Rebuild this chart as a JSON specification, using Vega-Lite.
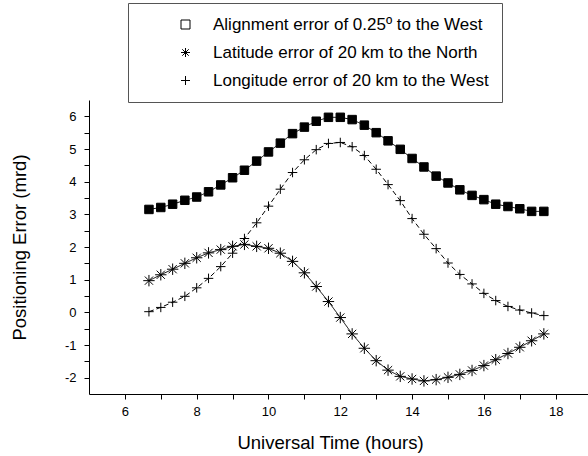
{
  "$schema": "https://vega.github.io/schema/vega-lite/v6.json",
  "autosize": {"type": "none"},
  "width": 499,
  "height": 294,
  "padding": {"left": 89, "top": 100, "right": 0, "bottom": 62},
  "background": "white",
  "config": {
    "view": {"stroke": null},
    "font": "Liberation Sans",
    "axis": {
      "grid": false,
      "domainColor": "black",
      "domainWidth": 1,
      "tickColor": "black",
      "tickWidth": 1,
      "tickSize": 5,
      "labelColor": "black",
      "labelFont": "Liberation Sans",
      "labelFontSize": 13,
      "titleColor": "black",
      "titleFont": "Liberation Sans",
      "titleFontSize": 18.5,
      "titleFontWeight": "normal"
    }
  },
  "data": {
    "values": [
      {"t": 6.67, "v": 3.15, "series": "Alignment error of 0.25º to the West"},
      {"t": 7.0, "v": 3.21, "series": "Alignment error of 0.25º to the West"},
      {"t": 7.33, "v": 3.31, "series": "Alignment error of 0.25º to the West"},
      {"t": 7.67, "v": 3.43, "series": "Alignment error of 0.25º to the West"},
      {"t": 8.0, "v": 3.53, "series": "Alignment error of 0.25º to the West"},
      {"t": 8.33, "v": 3.69, "series": "Alignment error of 0.25º to the West"},
      {"t": 8.67, "v": 3.9, "series": "Alignment error of 0.25º to the West"},
      {"t": 9.0, "v": 4.12, "series": "Alignment error of 0.25º to the West"},
      {"t": 9.33, "v": 4.35, "series": "Alignment error of 0.25º to the West"},
      {"t": 9.67, "v": 4.63, "series": "Alignment error of 0.25º to the West"},
      {"t": 10.0, "v": 4.91, "series": "Alignment error of 0.25º to the West"},
      {"t": 10.33, "v": 5.18, "series": "Alignment error of 0.25º to the West"},
      {"t": 10.67, "v": 5.47, "series": "Alignment error of 0.25º to the West"},
      {"t": 11.0, "v": 5.67, "series": "Alignment error of 0.25º to the West"},
      {"t": 11.33, "v": 5.85, "series": "Alignment error of 0.25º to the West"},
      {"t": 11.67, "v": 5.97, "series": "Alignment error of 0.25º to the West"},
      {"t": 12.0, "v": 5.97, "series": "Alignment error of 0.25º to the West"},
      {"t": 12.33, "v": 5.9, "series": "Alignment error of 0.25º to the West"},
      {"t": 12.67, "v": 5.73, "series": "Alignment error of 0.25º to the West"},
      {"t": 13.0, "v": 5.5, "series": "Alignment error of 0.25º to the West"},
      {"t": 13.33, "v": 5.25, "series": "Alignment error of 0.25º to the West"},
      {"t": 13.67, "v": 4.99, "series": "Alignment error of 0.25º to the West"},
      {"t": 14.0, "v": 4.71, "series": "Alignment error of 0.25º to the West"},
      {"t": 14.33, "v": 4.45, "series": "Alignment error of 0.25º to the West"},
      {"t": 14.67, "v": 4.17, "series": "Alignment error of 0.25º to the West"},
      {"t": 15.0, "v": 3.96, "series": "Alignment error of 0.25º to the West"},
      {"t": 15.33, "v": 3.75, "series": "Alignment error of 0.25º to the West"},
      {"t": 15.67, "v": 3.58, "series": "Alignment error of 0.25º to the West"},
      {"t": 16.0, "v": 3.45, "series": "Alignment error of 0.25º to the West"},
      {"t": 16.33, "v": 3.31, "series": "Alignment error of 0.25º to the West"},
      {"t": 16.67, "v": 3.24, "series": "Alignment error of 0.25º to the West"},
      {"t": 17.0, "v": 3.17, "series": "Alignment error of 0.25º to the West"},
      {"t": 17.33, "v": 3.09, "series": "Alignment error of 0.25º to the West"},
      {"t": 17.67, "v": 3.09, "series": "Alignment error of 0.25º to the West"},
      {"t": 6.67, "v": 0.97, "series": "Latitude error of 20 km to the North"},
      {"t": 7.0, "v": 1.15, "series": "Latitude error of 20 km to the North"},
      {"t": 7.33, "v": 1.32, "series": "Latitude error of 20 km to the North"},
      {"t": 7.67, "v": 1.5, "series": "Latitude error of 20 km to the North"},
      {"t": 8.0, "v": 1.67, "series": "Latitude error of 20 km to the North"},
      {"t": 8.33, "v": 1.82, "series": "Latitude error of 20 km to the North"},
      {"t": 8.67, "v": 1.92, "series": "Latitude error of 20 km to the North"},
      {"t": 9.0, "v": 2.02, "series": "Latitude error of 20 km to the North"},
      {"t": 9.33, "v": 2.08, "series": "Latitude error of 20 km to the North"},
      {"t": 9.67, "v": 2.02, "series": "Latitude error of 20 km to the North"},
      {"t": 10.0, "v": 1.96, "series": "Latitude error of 20 km to the North"},
      {"t": 10.33, "v": 1.81, "series": "Latitude error of 20 km to the North"},
      {"t": 10.67, "v": 1.56, "series": "Latitude error of 20 km to the North"},
      {"t": 11.0, "v": 1.21, "series": "Latitude error of 20 km to the North"},
      {"t": 11.33, "v": 0.79, "series": "Latitude error of 20 km to the North"},
      {"t": 11.67, "v": 0.33, "series": "Latitude error of 20 km to the North"},
      {"t": 12.0, "v": -0.16, "series": "Latitude error of 20 km to the North"},
      {"t": 12.33, "v": -0.66, "series": "Latitude error of 20 km to the North"},
      {"t": 12.67, "v": -1.1, "series": "Latitude error of 20 km to the North"},
      {"t": 13.0, "v": -1.48, "series": "Latitude error of 20 km to the North"},
      {"t": 13.33, "v": -1.77, "series": "Latitude error of 20 km to the North"},
      {"t": 13.67, "v": -1.96, "series": "Latitude error of 20 km to the North"},
      {"t": 14.0, "v": -2.04, "series": "Latitude error of 20 km to the North"},
      {"t": 14.33, "v": -2.1, "series": "Latitude error of 20 km to the North"},
      {"t": 14.67, "v": -2.06, "series": "Latitude error of 20 km to the North"},
      {"t": 15.0, "v": -1.99, "series": "Latitude error of 20 km to the North"},
      {"t": 15.33, "v": -1.9, "series": "Latitude error of 20 km to the North"},
      {"t": 15.67, "v": -1.78, "series": "Latitude error of 20 km to the North"},
      {"t": 16.0, "v": -1.63, "series": "Latitude error of 20 km to the North"},
      {"t": 16.33, "v": -1.45, "series": "Latitude error of 20 km to the North"},
      {"t": 16.67, "v": -1.26, "series": "Latitude error of 20 km to the North"},
      {"t": 17.0, "v": -1.07, "series": "Latitude error of 20 km to the North"},
      {"t": 17.33, "v": -0.87, "series": "Latitude error of 20 km to the North"},
      {"t": 17.67, "v": -0.66, "series": "Latitude error of 20 km to the North"},
      {"t": 6.67, "v": 0.02, "series": "Longitude error of 20 km to the West"},
      {"t": 7.0, "v": 0.15, "series": "Longitude error of 20 km to the West"},
      {"t": 7.33, "v": 0.31, "series": "Longitude error of 20 km to the West"},
      {"t": 7.67, "v": 0.49, "series": "Longitude error of 20 km to the West"},
      {"t": 8.0, "v": 0.75, "series": "Longitude error of 20 km to the West"},
      {"t": 8.33, "v": 1.04, "series": "Longitude error of 20 km to the West"},
      {"t": 8.67, "v": 1.4, "series": "Longitude error of 20 km to the West"},
      {"t": 9.0, "v": 1.81, "series": "Longitude error of 20 km to the West"},
      {"t": 9.33, "v": 2.26, "series": "Longitude error of 20 km to the West"},
      {"t": 9.67, "v": 2.74, "series": "Longitude error of 20 km to the West"},
      {"t": 10.0, "v": 3.25, "series": "Longitude error of 20 km to the West"},
      {"t": 10.33, "v": 3.77, "series": "Longitude error of 20 km to the West"},
      {"t": 10.67, "v": 4.28, "series": "Longitude error of 20 km to the West"},
      {"t": 11.0, "v": 4.67, "series": "Longitude error of 20 km to the West"},
      {"t": 11.33, "v": 4.98, "series": "Longitude error of 20 km to the West"},
      {"t": 11.67, "v": 5.17, "series": "Longitude error of 20 km to the West"},
      {"t": 12.0, "v": 5.2, "series": "Longitude error of 20 km to the West"},
      {"t": 12.33, "v": 5.07, "series": "Longitude error of 20 km to the West"},
      {"t": 12.67, "v": 4.8, "series": "Longitude error of 20 km to the West"},
      {"t": 13.0, "v": 4.38, "series": "Longitude error of 20 km to the West"},
      {"t": 13.33, "v": 3.91, "series": "Longitude error of 20 km to the West"},
      {"t": 13.67, "v": 3.42, "series": "Longitude error of 20 km to the West"},
      {"t": 14.0, "v": 2.87, "series": "Longitude error of 20 km to the West"},
      {"t": 14.33, "v": 2.39, "series": "Longitude error of 20 km to the West"},
      {"t": 14.67, "v": 1.95, "series": "Longitude error of 20 km to the West"},
      {"t": 15.0, "v": 1.51, "series": "Longitude error of 20 km to the West"},
      {"t": 15.33, "v": 1.16, "series": "Longitude error of 20 km to the West"},
      {"t": 15.67, "v": 0.87, "series": "Longitude error of 20 km to the West"},
      {"t": 16.0, "v": 0.58, "series": "Longitude error of 20 km to the West"},
      {"t": 16.33, "v": 0.36, "series": "Longitude error of 20 km to the West"},
      {"t": 16.67, "v": 0.18, "series": "Longitude error of 20 km to the West"},
      {"t": 17.0, "v": 0.07, "series": "Longitude error of 20 km to the West"},
      {"t": 17.33, "v": -0.02, "series": "Longitude error of 20 km to the West"},
      {"t": 17.67, "v": -0.1, "series": "Longitude error of 20 km to the West"}
    ]
  },
  "encoding": {
    "x": {
      "field": "t",
      "type": "quantitative",
      "scale": {"domain": [5, 18.9], "nice": false, "zero": false},
      "axis": {
        "title": "Universal Time (hours)",
        "values": [6, 7, 8, 9, 10, 11, 12, 13, 14, 15, 16, 17, 18],
        "labelExpr": "datum.value % 2 === 0 ? toString(datum.value) : ''",
        "labelPadding": 6,
        "labelFlush": false,
        "titleX": 241,
        "titleY": 48,
        "titleAlign": "center",
        "titleBaseline": "middle"
      }
    },
    "y": {
      "field": "v",
      "type": "quantitative",
      "scale": {"domain": [-2.5, 6.5], "nice": false, "zero": false},
      "axis": {
        "title": "Positioning Error (mrd)",
        "values": [-2, -1.5, -1, -0.5, 0, 0.5, 1, 1.5, 2, 2.5, 3, 3.5, 4, 4.5, 5, 5.5, 6],
        "labelExpr": "datum.value % 1 === 0 ? toString(datum.value) : ''",
        "labelPadding": 8,
        "labelFlush": false,
        "titleX": -70,
        "titleY": 147,
        "titleAngle": 270,
        "titleAlign": "center",
        "titleBaseline": "middle"
      }
    }
  },
  "layer": [
    {
      "mark": {"type": "line", "color": "black", "strokeWidth": 1},
      "encoding": {
        "detail": {"field": "series"},
        "strokeDash": {
          "condition": {"test": "datum.series === 'Longitude error of 20 km to the West'", "value": [5, 3]},
          "value": [1, 0]
        }
      }
    },
    {
      "mark": {"type": "point", "filled": true, "stroke": "black", "strokeWidth": 1, "opacity": 1},
      "encoding": {
        "shape": {
          "field": "series",
          "type": "nominal",
          "scale": {"range": ["square", "M-1,0L1,0M0,-1L0,1M-0.72,-0.72L0.72,0.72M-0.72,0.72L0.72,-0.72", "M-1,0L1,0M0,-1L0,1"]},
          "legend": {
            "title": null,
            "orient": "none",
            "legendX": 39,
            "legendY": -97,
            "padding": 13,
            "strokeColor": "#555555",
            "fillColor": "white",
            "symbolSize": 81,
            "symbolStrokeWidth": 1,
            "symbolOffset": 36,
            "labelOffset": 19,
            "labelFont": "Liberation Sans",
            "labelFontSize": 17,
            "labelColor": "black",
            "labelLimit": 600,
            "rowPadding": 10
          }
        },
        "fill": {
          "condition": {"test": "datum.series === 'Alignment error of 0.25º to the West'", "value": "black"},
          "value": "rgba(0,0,0,0)"
        },
        "size": {
          "condition": [
            {"test": "datum.series === 'Latitude error of 20 km to the North'", "value": 130},
            {"test": "datum.series === 'Longitude error of 20 km to the West'", "value": 90}
          ],
          "value": 72
        }
      }
    }
  ]
}
